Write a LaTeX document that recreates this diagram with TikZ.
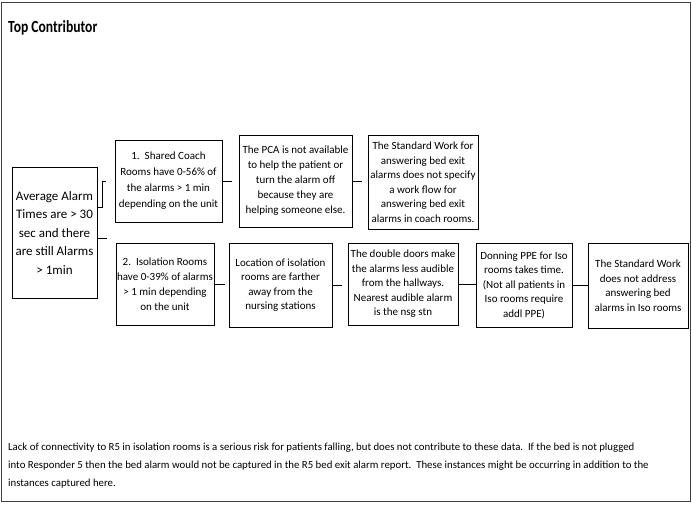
\documentclass[tikz,border=0pt]{standalone}
\usepackage{fontspec}
\setmainfont{Carlito}
\newfontfamily\headfont{Carlito}[FakeStretch=0.8]
\begin{document}
\begin{tikzpicture}[x=1pt,y=-1pt,
  cbox/.style={draw, line width=1pt, align=center, inner sep=1pt,
    font=\fontsize{11}{14.5}\selectfont},
  link/.style={line width=1pt}]
\useasboundingbox (0,0) rectangle (692,504);
\draw[line width=1pt, black!75] (1,2) rectangle (690.5,501.5);
\node[anchor=west, inner sep=0pt, font=\headfont\fontsize{17}{19}\selectfont\bfseries] (ttl) at (8,28) {Top Contributor};
% root cause
\node[cbox, minimum width=85pt, minimum height=131pt, font=\fontsize{13}{18.5}\selectfont] (c0) at (54.5,232.5)
  {Average Alarm\\Times are > 30\\sec and there\\are still Alarms\\> 1min};
% upper branch
\node[cbox, minimum width=107pt, minimum height=82pt, font=\fontsize{11}{16}\selectfont] (c1) at (168.5,181)
  {1.\ \ Shared Coach\\Rooms have 0-56\% of\\the alarms > 1 min\\depending on the unit};
\node[cbox, minimum width=113pt, minimum height=92pt, font=\fontsize{11}{15}\selectfont] (c3) at (295.5,181)
  {The PCA is not available\\to help the patient or\\turn the alarm off\\because they are\\helping someone else.};
\node[cbox, minimum width=110pt, minimum height=94pt, font=\fontsize{11}{14.5}\selectfont] (c4) at (423,182)
  {The Standard Work for\\answering bed exit\\alarms does not specify\\a work flow for\\answering bed exit\\alarms in coach rooms.};
% lower branch
\node[cbox, minimum width=98pt, minimum height=82pt, font=\fontsize{11}{15}\selectfont] (c2) at (165,284)
  {2.\ \ Isolation Rooms\\have 0-39\% of alarms\\> 1 min depending\\on the unit};
\node[cbox, minimum width=103pt, minimum height=84pt] (c5) at (280.5,285)
  {Location of isolation\\rooms are farther\\away from the\\nursing stations};
\node[cbox, minimum width=110pt, minimum height=82pt] (c6) at (403,284)
  {The double doors make\\the alarms less audible\\from the hallways.\\Nearest audible alarm\\is the nsg stn};
\node[cbox, minimum width=96pt, minimum height=84pt] (c7) at (524,285)
  {Donning PPE for Iso\\rooms takes time.\\(Not all patients in\\Iso rooms require\\addl PPE)};
\node[cbox, minimum width=100pt, minimum height=85pt] (c8) at (638,285.5)
  {The Standard Work\\does not address\\answering bed\\alarms in Iso rooms};
% connectors
\coordinate (r1) at ([yshift=25pt]c0.east);
\coordinate (r2) at ([yshift=-5.5pt]c0.east);
\coordinate (k1) at ([xshift=-12pt]c1.west);
\coordinate (k2) at ([xshift=-9pt]c1.west);
\coordinate (k3) at ([xshift=-9pt]c2.west);
\draw[link] (r1) -| (k1) -- (k2);
\draw[link] (r2) -- (r2 -| k3);
\draw[link, shorten >=7pt] (c1) -- (c3);
\draw[link, shorten >=6pt] (c3.east) -- (c4.west |- c3.east);
\draw[link, shorten >=4pt] (c2.east) -- (c5.west |- c2.east);
\draw[link, shorten >=6pt] (c5.east) -- (c6.west |- c5.east);
\draw[link] (c6.east) -- (c7.west |- c6.east);
\draw[link] (c7.east) -- (c8.west |- c7.east);
% note
\node[anchor=north west, align=left, inner sep=0pt, font=\fontsize{10.8}{18}\selectfont] (nt) at (8,443)
  {Lack of connectivity to R5 in isolation rooms is a serious risk for patients falling, but does not contribute to these data.\ \ If the bed is not plugged\\
  into Responder 5 then the bed alarm would not be captured in the R5 bed exit alarm report.\ \ These instances might be occurring in addition to the\\
  instances captured here.};
\end{tikzpicture}
\end{document}
